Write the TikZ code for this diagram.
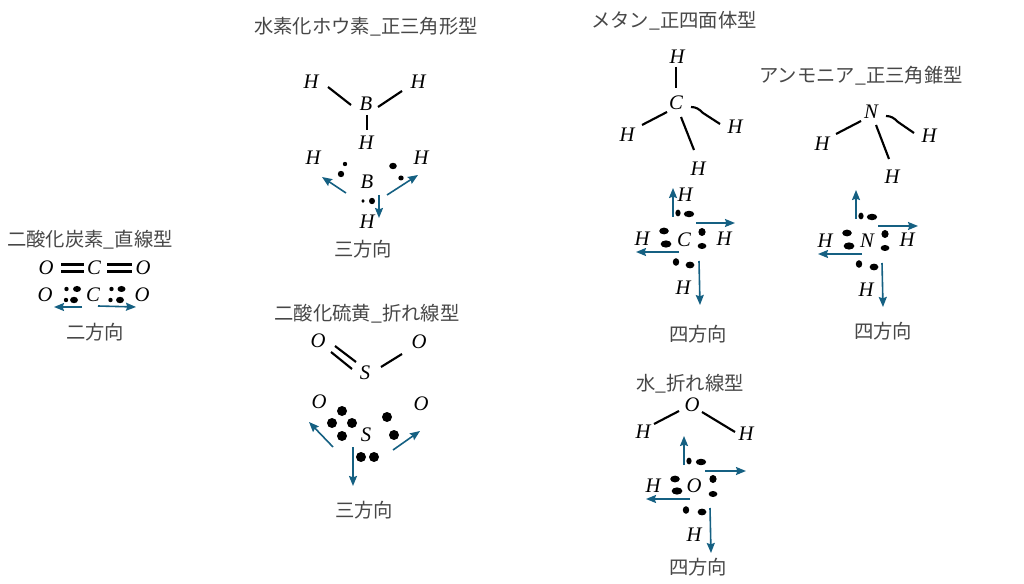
\documentclass[tikz,border=0pt]{standalone}
\usepackage{fontspec}
\setmainfont{Noto Sans CJK JP}
\newfontfamily\atomfont{Liberation Serif}
\usetikzlibrary{calc,arrows.meta}

\tikzset{
    atom/.style={inner sep=0pt, font=\atomfont\itshape\fontsize{15.5}{17}\selectfont},
    title/.style={inner sep=0pt, text=black!72, font=\fontsize{14.5}{17}\selectfont},
    bond/.style={line width=1.6pt},
    dir/.style={line width=1.2pt, draw={rgb,255:red,21;green,96;blue,130}, -{Stealth[length=7.5pt,width=6pt,inset=1pt]}},
}

\begin{document}
\begin{tikzpicture}[x=0.75pt,y=-0.75pt]
    \useasboundingbox (0,0) rectangle (1024,584);

    % carbon dioxide
    \node[title] (co2) at (90,240) {二酸化炭素\_直線型};
    \node[atom] (aO1) at (46,268) {O};
    \node[atom] (aC) at (94,268) {C};
    \node[atom] (aO2) at (143,268) {O};
    \draw[bond] ($(aO1)+(15,-3.5)$) -- ($(aC)+(-10,-3.5)$);
    \draw[bond] ($(aO1)+(15,3.5)$) -- ($(aC)+(-10,3.5)$);
    \draw[bond] ($(aC)+(13,-3.5)$) -- ($(aO2)+(-11,-3.5)$);
    \draw[bond] ($(aC)+(13,3.5)$) -- ($(aO2)+(-11,3.5)$);
    \node[atom] (bO1) at (45,295) {O};
    \node[atom] (bC) at (93,295) {C};
    \node[atom] (bO2) at (142,295) {O};
    \foreach \x/\y/\a/\b in {66.5/289/2.2/2.2, 77/289/4/3, 66/300/2.2/2.2, 74/300/4/3.2,
        111.5/289/2.2/2.2, 121.5/289/4/3, 110.5/300/2.2/2.2, 120/300/4/3.2}
        \fill (\x,\y) ellipse [x radius=\a, y radius=\b];
    \draw[dir] ($(bC)+(-11,12)$) -- ($(bO1)+(9,12)$);
    \draw[dir] ($(bC)+(5,11)$) -- ($(bO2)+(-6,12)$);
    \node[title] (co2dir) at (95,332) {二方向};

    % borane
    \node[title] (bh3) at (366,27) {水素化ホウ素\_正三角形型};
    \node[atom] (cH1) at (311,82) {H};
    \node[atom] (cH2) at (418,82) {H};
    \node[atom] (cB) at (366,104) {B};
    \node[atom] (cH3) at (366,143) {H};
    \draw[bond] ($(cH1)+(17,5)$) -- ($(cB)+(-15,1)$);
    \draw[bond] ($(cB)+(12,3)$) -- ($(cH2)+(-16,9)$);
    \draw[bond] ($(cB)+(1,11)$) -- ($(cH3)+(1,-13)$);
    \node[atom] (dH1) at (313,158) {H};
    \node[atom] (dH2) at (421,158) {H};
    \node[atom] (dB) at (367,182) {B};
    \node[atom] (dH3) at (367,222) {H};
    \foreach \x/\y/\a/\b in {345/164/2.2/2.2, 341/174/3.2/3.2, 393/166/3.8/3.2, 401/178/2.7/2.5, 363/201/1.7/1.9, 372/201/3/3.2}
        \fill (\x,\y) ellipse [x radius=\a, y radius=\b];
    \draw[dir] ($(dB)+(-21,11)$) -- ($(dH1)+(9,19)$);
    \draw[dir] ($(dB)+(20,13)$) -- ($(dH2)+(-3,17)$);
    \draw[dir] ($(dB)+(12,13)$) -- ($(dH3)+(12,-4)$);
    \node[title] (bh3dir) at (363,249) {三方向};

    % sulfur dioxide
    \node[title] (so2) at (367,314) {二酸化硫黄\_折れ線型};
    \node[atom] (eO1) at (318,341) {O};
    \node[atom] (eO2) at (419,342) {O};
    \node[atom] (eS) at (365,373) {S};
    \draw[bond] ($(eO1)+(17,5)$) -- ($(eS)+(-9,-11)$);
    \draw[bond] ($(eO1)+(13,11)$) -- ($(eS)+(-13,-4)$);
    \draw[bond] ($(eS)+(16,-6)$) -- ($(eO2)+(-17,12)$);
    \node[atom] (fO1) at (319,402) {O};
    \node[atom] (fO2) at (421,404) {O};
    \node[atom] (fS) at (366,435) {S};
    \foreach \x/\y in {342/411, 332/423, 352/423, 342/436, 387/417, 394/435, 361/457, 374/457}
        \fill (\x,\y) circle (5);
    \coordinate (fDown) at (353,486);
    \draw[dir] ($(fS)+(-33,12)$) -- ($(fO1)+(-10,20)$);
    \draw[dir] ($(fS)+(27,15)$) -- ($(fO2)+(-1,27)$);
    \draw[dir] ($(fS)+(-13,12)$) -- (fDown);
    \node[title] (so2dir) at (364,510) {三方向};

    % methane
    \node[title] (ch4) at (674,21) {メタン\_正四面体型};
    \node[atom] (gHt) at (677,57) {H};
    \node[atom] (gC) at (676,103) {C};
    \node[atom] (gHl) at (627,135) {H};
    \node[atom] (gHr) at (735,127) {H};
    \node[atom] (gHb) at (698,169) {H};
    \draw[bond] ($(gHt)+(-1,10)$) -- ($(gC)+(0,-15)$);
    \draw[bond] ($(gC)+(-9,9)$) -- ($(gHl)+(15,-10)$);
    \draw[bond] ($(gC)+(5,14)$) -- ($(gHb)+(-4,-19)$);
    \draw[bond] ($(gC)+(15,4)$) .. controls ($(gC)+(20,4)$) and ($(gC)+(23,6)$) .. ($(gC)+(27,10)$) -- ($(gHr)+(-15,-3)$);
    \node[atom] (hHt) at (685,195) {H};
    \node[atom] (hHl) at (642,239) {H};
    \node[atom] (hC) at (684,240) {C};
    \node[atom] (hHr) at (724,239) {H};
    \node[atom] (hHb) at (683,288) {H};
    \foreach \x/\y/\a/\b in {678/213/2.6/3.4, 689/214/5.2/3.2, 664/231/4.8/3.4, 666/244/5.4/3.6, 702/232/3.6/4, 702/246/4.4/3, 676/262/3.2/3.8, 690/265/4.4/3.4}
        \fill (\x,\y) ellipse [x radius=\a, y radius=\b];
    \draw[dir] ($(hC)+(-11,-23)$) -- ($(hHt)+(-12,-7)$);
    \draw[dir] ($(hC)+(12,-17)$) -- ($(hHr)+(11,-16)$);
    \draw[dir] ($(hC)+(-5,12)$) -- ($(hHl)+(-6,13)$);
    \draw[dir] ($(hC)+(15,21)$) -- ($(hHb)+(17,17)$);
    \node[title] (ch4dir) at (698,334) {四方向};

    % ammonia
    \node[title] (nh3) at (861,76) {アンモニア\_正三角錐型};
    \node[atom] (iN) at (871,112) {N};
    \node[atom] (iHl) at (822,144) {H};
    \node[atom] (iHr) at (929,136) {H};
    \node[atom] (iHb) at (892,177) {H};
    \draw[bond] ($(iN)+(-10,9)$) -- ($(iHl)+(14,-10)$);
    \draw[bond] ($(iN)+(5,13)$) -- ($(iHb)+(-3,-18)$);
    \draw[bond] ($(iN)+(15,4)$) .. controls ($(iN)+(20,4)$) and ($(iN)+(23,6)$) .. ($(iN)+(27,10)$) -- ($(iHr)+(-15,-3)$);
    \node[atom] (jN) at (867,241) {N};
    \node[atom] (jHl) at (825,241) {H};
    \node[atom] (jHr) at (907,240) {H};
    \node[atom] (jHb) at (866,290) {H};
    \foreach \x/\y/\a/\b in {861/216/2.6/3.4, 872/217/5.2/3.2, 847/233/4.8/3.4, 849/246/5.4/3.6, 885/234/3.6/4, 885/248/4.4/3, 859/264/3.2/3.8, 874/267/4.4/3.4}
        \fill (\x,\y) ellipse [x radius=\a, y radius=\b];
    \draw[dir] ($(jN)+(-11,-22)$) -- ($(jN)+(-11,-51)$);
    \draw[dir] ($(jN)+(11,-15)$) -- ($(jHr)+(11,-14)$);
    \draw[dir] ($(jN)+(-5,13)$) -- ($(jHl)+(-7,13)$);
    \draw[dir] ($(jN)+(15,22)$) -- ($(jHb)+(17,17)$);
    \node[title] (nh3dir) at (883,331) {四方向};

    % water
    \node[title] (h2o) at (690,384) {水\_折れ線型};
    \node[atom] (kO) at (692,405) {O};
    \node[atom] (kHl) at (643,432) {H};
    \node[atom] (kHr) at (746,434) {H};
    \draw[bond] ($(kO)+(-13,6)$) -- ($(kHl)+(11,-8)$);
    \draw[bond] ($(kO)+(10,7)$) -- ($(kHr)+(-11,-2)$);
    \node[atom] (lO) at (694,486) {O};
    \node[atom] (lHl) at (653,486) {H};
    \node[atom] (lHb) at (694,535) {H};
    \foreach \x/\y/\a/\b in {689/461/2.6/3.4, 701/462/5.2/3.2, 675/479/4.8/3.4, 677/491/5.4/3.6, 713/479/3.6/4, 713/494/4.4/3, 686/510/3.2/3.8, 702/512/4.4/3.4}
        \fill (\x,\y) ellipse [x radius=\a, y radius=\b];
    \draw[dir] ($(lO)+(-10,-21)$) -- ($(lO)+(-10,-50)$);
    \draw[dir] ($(lO)+(11,-15)$) -- ($(lO)+(52,-15)$);
    \draw[dir] ($(lO)+(-4,13)$) -- ($(lHl)+(-7,13)$);
    \draw[dir] ($(lO)+(16,22)$) -- ($(lHb)+(17,18)$);
    \node[title] (h2odir) at (698,567) {四方向};
\end{tikzpicture}
\end{document}
